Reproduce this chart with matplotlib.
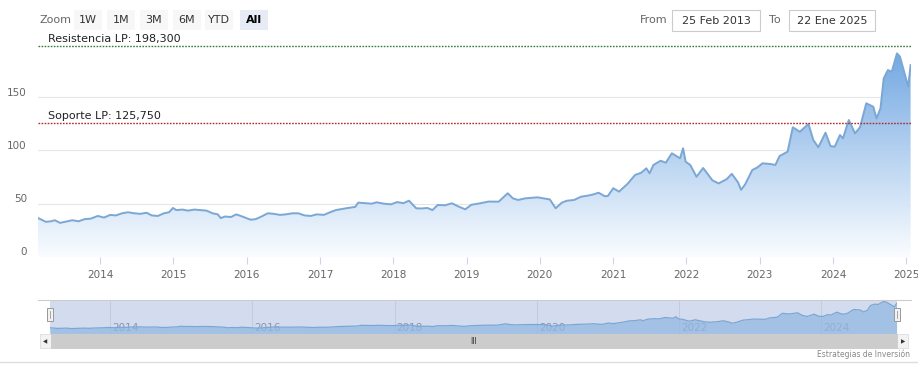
import matplotlib
matplotlib.use("Agg")
import matplotlib.pyplot as plt
import matplotlib.dates as mdates
import matplotlib.patches as mpatches
from matplotlib.transforms import ScaledTranslation
import numpy as np
import pandas as pd

# ---------------- data ----------------
dates = [
    "2013-02-25", "2013-03-15", "2013-04-05", "2013-05-01", "2013-05-20", "2013-06-15",
    "2013-07-10", "2013-08-15", "2013-09-15", "2013-10-15", "2013-11-15", "2013-12-20",
    "2014-01-20", "2014-02-20", "2014-03-20", "2014-04-20", "2014-05-20", "2014-06-20",
    "2014-07-20", "2014-08-20", "2014-09-15", "2014-10-15", "2014-11-15", "2014-12-10",
    "2014-12-30", "2015-01-15", "2015-02-15", "2015-03-15", "2015-04-15", "2015-05-15",
    "2015-06-15", "2015-07-15", "2015-08-10", "2015-08-25", "2015-09-15", "2015-10-15",
    "2015-11-10", "2015-12-10", "2016-01-20", "2016-02-15", "2016-03-15", "2016-04-15",
    "2016-05-15", "2016-06-15", "2016-07-15", "2016-08-15", "2016-09-15", "2016-10-15",
    "2016-11-15", "2016-12-15", "2017-01-20", "2017-02-20", "2017-03-20", "2017-04-20",
    "2017-05-20", "2017-06-25", "2017-07-10", "2017-08-15", "2017-09-15", "2017-10-10",
    "2017-11-15", "2017-12-20", "2018-01-20", "2018-02-20", "2018-03-20", "2018-04-25",
    "2018-05-20", "2018-06-20", "2018-07-15", "2018-08-10", "2018-09-15", "2018-10-20",
    "2018-11-20", "2018-12-25", "2019-01-25", "2019-03-10", "2019-04-20", "2019-06-10",
    "2019-07-25", "2019-08-20", "2019-09-15", "2019-10-20", "2019-11-20", "2019-12-20",
    "2020-01-20", "2020-02-20", "2020-03-20", "2020-04-20", "2020-05-15", "2020-06-20",
    "2020-07-25", "2020-08-25", "2020-09-20", "2020-10-20", "2020-11-20", "2020-12-05",
    "2021-01-01", "2021-01-30", "2021-03-15", "2021-04-20", "2021-05-20", "2021-06-15",
    "2021-07-01", "2021-07-20", "2021-08-25", "2021-09-20", "2021-10-20", "2021-11-30",
    "2021-12-15", "2021-12-28", "2022-01-20", "2022-02-20", "2022-03-25", "2022-05-10",
    "2022-06-10", "2022-07-20", "2022-08-15", "2022-09-15", "2022-09-30", "2022-10-20",
    "2022-11-25", "2022-12-20", "2023-01-15", "2023-02-25", "2023-03-20", "2023-04-10",
    "2023-05-20", "2023-06-15", "2023-07-20", "2023-09-01", "2023-09-25", "2023-10-20",
    "2023-11-25", "2023-12-20", "2024-01-10", "2024-02-05", "2024-02-20", "2024-03-20",
    "2024-04-20", "2024-05-15", "2024-06-15", "2024-07-20", "2024-08-05", "2024-08-25",
    "2024-09-10", "2024-10-01", "2024-10-20", "2024-11-15", "2024-11-30", "2024-12-25",
    "2025-01-10", "2025-01-22",
]
prices = [
    36.5, 35.0, 33.0, 33.5, 34.5, 32.0,
    33.0, 34.5, 33.5, 35.5, 36.0, 38.5,
    37.0, 39.5, 39.0, 41.0, 42.0, 41.0,
    40.5, 41.5, 39.0, 38.5, 41.0, 42.0,
    46.0, 44.0, 44.5, 43.5, 44.5, 44.0,
    43.5, 41.0, 40.0, 36.5, 38.0, 37.5,
    40.0, 38.0, 35.0, 35.5, 38.0, 41.0,
    40.5, 39.5, 40.0, 41.0, 41.0, 39.0,
    38.5, 40.0, 39.5, 42.0, 44.0, 45.0,
    46.0, 47.0, 51.0, 50.5, 50.0, 51.3,
    50.0, 49.4, 51.5, 50.5, 52.8, 45.7,
    45.5, 46.0, 44.0, 48.8, 48.5, 50.4,
    47.5, 44.7, 49.0, 50.4, 52.0, 51.9,
    59.8, 55.0, 53.5, 55.0, 55.5, 56.0,
    55.0, 54.0, 45.7, 51.0, 52.8, 53.5,
    56.6, 57.5, 58.5, 60.3, 57.0, 57.2,
    64.5, 61.3, 69.0, 77.0, 79.0, 83.2,
    78.5, 86.3, 90.3, 88.5, 97.3, 92.6,
    102.0, 89.4, 86.3, 75.3, 83.5, 72.0,
    69.0, 73.0, 78.0, 70.0, 63.0, 68.0,
    81.6, 84.0, 87.9, 87.2, 86.3, 94.7,
    98.8, 121.7, 117.5, 124.8, 109.8, 102.9,
    116.6, 104.0, 103.5, 114.4, 111.3, 128.5,
    116.0, 121.7, 144.2, 141.0, 130.0, 139.5,
    167.6, 175.4, 173.8, 191.0, 188.0, 170.7,
    159.8, 180.0,
]
resistance = 198.3
support = 125.75
resistance_label = "Resistencia LP: 198,300"
support_label = "Soporte LP: 125,750"
y_ticks = [0, 50, 100, 150]
x_tick_years = list(range(2014, 2026))
nav_tick_years = [2014, 2016, 2018, 2020, 2022, 2024]
zoom_buttons = ["1W", "1M", "3M", "6M", "YTD", "All"]
from_text = "25 Feb 2013"
to_text = "22 Ene 2025"
credit = "Estrategias de Inversión"

# ---------------- figure ----------------
W, H = 918, 377
fig = plt.figure(figsize=(W / 100, H / 100), dpi=100)
fig.patch.set_facecolor("white")


def fx(x):
    return x / W


def fy(y):
    return 1 - y / H


x = pd.to_datetime(dates)
xn = mdates.date2num(x)
y = np.array(prices)
x0 = mdates.date2num(pd.Timestamp("2013-02-25"))
x1 = mdates.date2num(pd.Timestamp("2025-01-24"))

# main axes: plot area x 38..911, y 40..257
left, right, top, bottom = 38, 911, 40, 257
ax = fig.add_axes([fx(left), fy(bottom), fx(right) - fx(left), fy(top) - fy(bottom)])
ymax = (bottom - top) / 1.066
ax.set_xlim(x0, x1)
ax.set_ylim(0, ymax)
for s in ax.spines.values():
    s.set_visible(False)
ax.axhline(0, color="#ccd6eb", lw=1.0, zorder=1)

for t in y_ticks[1:]:
    ax.axhline(t, color="#e6e6e6", lw=0.8, zorder=0)

# gradient fill clipped to area
poly = ax.fill_between(xn, y, 0, color="none", lw=0)
grad = np.linspace(1, 0, 256).reshape(-1, 1)
top_c = np.array([0.42, 0.64, 0.88])
bot_c = np.array([0.98, 0.99, 1.0])
img = top_c[None, None, :] * grad[:, :, None] + bot_c[None, None, :] * (1 - grad[:, :, None])
im = ax.imshow(img, extent=[x0, x1, 0, ymax], aspect="auto", origin="upper", zorder=1)
path = poly.get_paths()[0]
im.set_clip_path(path, transform=ax.transData)
ax.plot(xn, y, color="#7ba7d4", lw=1.4, zorder=3)

# reference lines
ax.axhline(resistance, color="#3d7a3d", lw=1.0, ls=(0, (1.2, 1.0)), zorder=4)
ax.axhline(support, color="#b02a2a", lw=1.0, ls=(0, (1.2, 1.0)), zorder=4)
ax.text(0.012, resistance + 1.5, resistance_label, transform=ax.get_yaxis_transform(),
        fontsize=8, color="#222222", va="bottom", ha="left")
ax.text(0.012, support + 1.5, support_label, transform=ax.get_yaxis_transform(),
        fontsize=8, color="#222222", va="bottom", ha="left")

ax.set_yticks(y_ticks)
ax.set_yticklabels([str(v) for v in y_ticks])
ax.tick_params(axis="y", length=0, labelsize=7.5, labelcolor="#666666", pad=8)
off = ScaledTranslation(0, 4 / 72, fig.dpi_scale_trans)
for lab in ax.get_yticklabels():
    lab.set_transform(lab.get_transform() + off)

xt = [mdates.date2num(pd.Timestamp(f"{yr}-01-01")) for yr in x_tick_years]
ax.set_xticks(xt)
ax.set_xticklabels([str(yr) for yr in x_tick_years])
ax.tick_params(axis="x", length=5, color="#ccd6eb", labelsize=7.5, labelcolor="#666666", pad=4)

# ---------------- navigator ----------------
nl, nr, nt, nb = 50, 897, 300, 334
nav = fig.add_axes([fx(nl), fy(nb), fx(nr) - fx(nl), fy(nt) - fy(nb)])
nav.set_xlim(x0, x1)
nav.set_ylim(0, 200)
nav.set_facecolor("#d3dcee")
for s in nav.spines.values():
    s.set_visible(False)
nav.set_xticks([])
nav.set_yticks([])
for yr in nav_tick_years:
    xv = mdates.date2num(pd.Timestamp(f"{yr}-01-01"))
    nav.axvline(xv, color="#c4cbdc", lw=0.7, zorder=0)
    nav.text(xv + 10, 3, str(yr), fontsize=7.5, color="#8a93a8", ha="left", va="bottom", zorder=1)
nav.fill_between(xn, y, 0, color="#93b8e3", alpha=0.75, lw=0, zorder=2)
nav.plot(xn, y, color="#7ba7d4", lw=0.9, zorder=3)

# navigator outline top line
fig.add_artist(plt.Line2D([fx(38), fx(911)], [fy(300), fy(300)], color="#cccccc", lw=0.8))
# handles
for hx in (nl, nr):
    fig.add_artist(mpatches.FancyBboxPatch((fx(hx - 3), fy(321)), fx(6), fy(308) - fy(321),
                                           boxstyle="square,pad=0", fc="#f2f2f2", ec="#999999", lw=0.7))
    fig.add_artist(plt.Line2D([fx(hx), fx(hx)], [fy(311), fy(318)], color="#999999", lw=0.6))

# scrollbar
sb_t, sb_b = 334, 348
fig.add_artist(mpatches.Rectangle((fx(40), fy(sb_b)), fx(908) - fx(40), fy(sb_t) - fy(sb_b),
                                  fc="#f2f2f2", ec="#dddddd", lw=0.6))
fig.add_artist(mpatches.Rectangle((fx(51), fy(sb_b)), fx(897) - fx(51), fy(sb_t) - fy(sb_b),
                                  fc="#cccccc", ec="#cccccc", lw=0.6))
fig.text(fx(474), fy(341.5), "III", fontsize=5.5, color="#333333", ha="center", va="center")
fig.text(fx(45), fy(341.5), "◀", fontsize=4, color="#333333", ha="center", va="center")
fig.text(fx(903), fy(341.5), "▶", fontsize=4, color="#333333", ha="center", va="center")

fig.text(fx(910), fy(354), credit, fontsize=5.5, color="#888888", ha="right", va="center")
fig.add_artist(plt.Line2D([0, 1], [fy(362), fy(362)], color="#dddddd", lw=1.0))

# ---------------- range selector ----------------
fig.text(fx(40), fy(20), "Zoom", fontsize=8, color="#666666", ha="left", va="center")
bx = [74, 107, 140, 173, 205, 240]
for b, lab in zip(bx, zoom_buttons):
    sel = lab == "All"
    fig.add_artist(mpatches.FancyBboxPatch((fx(b), fy(30)), fx(28), fy(10) - fy(30),
                                           boxstyle="square,pad=0",
                                           fc="#e6ebf5" if sel else "#f7f7f7", ec="none"))
    fig.text(fx(b + 14), fy(20), lab, fontsize=8, color="#000000" if sel else "#333333",
             fontweight="bold" if sel else "normal", ha="center", va="center")

fig.text(fx(640), fy(20), "From", fontsize=8, color="#666666", ha="left", va="center")
fig.add_artist(mpatches.Rectangle((fx(672), fy(31)), fx(88), fy(10) - fy(31),
                                  fc="white", ec="#cccccc", lw=0.8))
fig.text(fx(716), fy(20.5), from_text, fontsize=8, color="#333333", ha="center", va="center")
fig.text(fx(769), fy(20), "To", fontsize=8, color="#666666", ha="left", va="center")
fig.add_artist(mpatches.Rectangle((fx(789), fy(31)), fx(86), fy(10) - fy(31),
                                  fc="white", ec="#cccccc", lw=0.8))
fig.text(fx(832), fy(20.5), to_text, fontsize=8, color="#333333", ha="center", va="center")

fig.savefig("out.png", dpi=100, facecolor="white")
